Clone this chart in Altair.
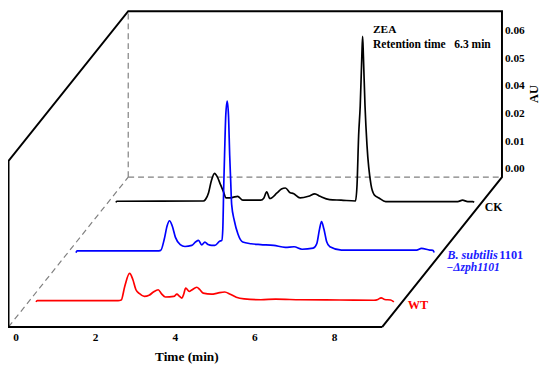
import altair as alt
import pandas as pd

# ---------------- data ----------------
# WT (red), front trace
wt_time = [0, 0.03, 2.06, 2.14, 2.23, 2.35, 2.43, 2.51, 2.60, 2.72, 2.84, 2.95, 3.07, 3.15, 3.25,
           3.46, 3.54, 3.60, 3.665, 3.71, 3.76, 3.85, 3.91, 4.04, 4.11, 4.20, 4.41, 4.56, 4.74,
           4.88, 5.03, 5.23, 5.65, 6.02, 6.64, 7.63, 8.49, 8.59, 8.67, 8.76, 8.91, 8.99]
wt_au = [0.0000, 0.0005, 0.0005, 0.0007, 0.0057, 0.0103, 0.0082, 0.0044, 0.0030, 0.0020, 0.0024,
         0.0036, 0.0044, 0.0030, 0.0018, 0.0020, 0.0028, 0.0021, 0.0014, 0.0028, 0.0050, 0.0038,
         0.0043, 0.0053, 0.0045, 0.0032, 0.0028, 0.0032, 0.0036, 0.0028, 0.0017, 0.0011, 0.0008,
         0.0010, 0.0008, 0.0007, 0.0006, 0.0009, 0.0015, 0.0009, 0.0007, 0.0000]

# B. subtilis 1101 -Δzph1101 (blue), middle trace
mut_time = [0, 0.03, 2.04, 2.13, 2.22, 2.29, 2.35, 2.42, 2.50, 2.62, 2.74, 2.91, 3.01, 3.08, 3.16,
            3.24, 3.32, 3.41, 3.49, 3.61, 3.665, 3.69, 3.714, 3.734, 3.764, 3.80, 3.833, 3.863,
            3.887, 3.912, 3.98, 4.07, 4.19, 4.40, 4.64, 4.97, 5.26, 5.48, 5.68, 5.96, 6.05, 6.12,
            6.17, 6.23, 6.30, 6.38, 6.67, 8.56, 8.68, 8.89, 8.97, 9.00]
mut_au = [-0.0002, 0.0004, 0.0004, 0.0006, 0.0047, 0.0094, 0.0113, 0.0094, 0.0053, 0.0027, 0.0020,
          0.0024, 0.0037, 0.0042, 0.0026, 0.0036, 0.0027, 0.0024, 0.0024, 0.0039, 0.0042, 0.0083,
          0.0243, 0.0350, 0.0493, 0.0546, 0.0493, 0.0350, 0.0261, 0.0172, 0.0113, 0.0065, 0.0036,
          0.0030, 0.0027, 0.0024, 0.0017, 0.0019, 0.0010, 0.0014, 0.0030, 0.0083, 0.0110, 0.0083,
          0.0037, 0.0019, 0.0007, 0.0007, 0.0013, 0.0007, 0.0006, -0.0002]

# CK (black), back trace
ck_time = [0, 0.03, 2.20, 2.25, 2.33, 2.40, 2.48, 2.55, 2.63, 2.70, 2.77, 2.85, 2.94, 3.06, 3.19,
           3.39, 3.64, 3.72, 3.79, 3.87, 4.05, 4.16, 4.26, 4.38, 4.46, 4.63, 4.84, 5.00, 5.13,
           5.37, 5.66, 6.02, 6.06, 6.10, 6.14, 6.18, 6.20, 6.22, 6.26, 6.31, 6.41, 6.49, 6.61,
           6.78, 8.59, 8.71, 8.84, 8.97, 9.00]
ck_au = [-0.0001, 0.0003, 0.0004, 0.0009, 0.0034, 0.0077, 0.0104, 0.0091, 0.0063, 0.0039, 0.0015,
         0.0015, 0.0017, 0.0021, 0.0007, 0.0007, 0.0007, 0.0015, 0.0037, 0.0013, 0.0033, 0.0047,
         0.0051, 0.0034, 0.0031, 0.0015, 0.0021, 0.0030, 0.0021, 0.0009, 0.0007, 0.0004, 0.0063,
         0.0241, 0.0348, 0.0526, 0.0599, 0.0526, 0.0348, 0.0205, 0.0063, 0.0027, 0.0015, 0.0002,
         0.0002, 0.0007, 0.0002, 0.0002, -0.0001]

x_ticks = [0, 2, 4, 6, 8]
au_tick_labels = ["0.00", "0.01", "0.02", "0.04", "0.05", "0.06"]

# ---------------- layout (pseudo-3D oblique projection) ----------------
W, H = 542, 358
PX_PER_MIN = 40.4
PX_PER_AU = 2808.0
XMIN = -8.2 / PX_PER_MIN
XMAX = XMIN + W / PX_PER_MIN
YMAX = 321.0 / PX_PER_AU
YMIN = YMAX - H / PX_PER_AU
DX = 121.5 / PX_PER_MIN   # shift (min) for full depth
DY = 152.0 / PX_PER_AU    # shift (AU) for full depth
T_LO, T_HI = -0.19, 9.2
AU_TOP = 0.06
FONT = "Liberation Serif"

xs = alt.Scale(domain=[XMIN, XMAX], nice=False, zero=False)
ys = alt.Scale(domain=[YMIN, YMAX], nice=False, zero=False)


def proj(ch):
    return ch.transform_calculate(
        X=f"datum.t + datum.d*{DX}", Y=f"datum.au + datum.d*{DY}")


def xy():
    return dict(x=alt.X("X:Q", scale=xs, axis=None), y=alt.Y("Y:Q", scale=ys, axis=None))


def series_df(times, aus, depth):
    return pd.DataFrame({"t": times, "au": aus, "d": depth, "i": list(range(len(times)))})


# frame
frame_df = pd.DataFrame({
    "t": [T_HI, T_LO, T_LO, T_LO, T_HI, T_HI, T_HI],
    "au": [0, 0, AU_TOP, AU_TOP, AU_TOP, 0, 0],
    "d": [0, 0, 0, 1, 1, 1, 0],
    "i": list(range(7)),
})
frame = proj(alt.Chart(frame_df)).mark_line(
    color="black", strokeWidth=2, strokeJoin="miter").encode(**xy(), order="i:Q")

dash_df = pd.DataFrame({
    "t": [T_LO, T_LO, T_LO], "au": [0, 0, 0], "d": [0, 1, 1],
    "t2": [T_LO, T_HI, T_LO], "au2": [0, 0, AU_TOP], "d2": [1, 1, 1],
})
dashed = proj(alt.Chart(dash_df)).transform_calculate(
    X2=f"datum.t2 + datum.d2*{DX}", Y2=f"datum.au2 + datum.d2*{DY}"
).mark_rule(color="#808080", strokeWidth=1.2, strokeDash=[6, 4]).encode(
    **xy(), x2="X2:Q", y2="Y2:Q")


# traces
def trace(times, aus, depth, color):
    return proj(alt.Chart(series_df(times, aus, depth))).mark_line(
        color=color, strokeWidth=1.7, interpolate="monotone").encode(**xy(), order="i:Q")


ck_line = trace(ck_time, ck_au, 5 / 6, "black")
mut_line = trace(mut_time, mut_au, 0.5, "#0000ff")
wt_line = trace(wt_time, wt_au, 1 / 6, "#ff0000")

# bottom tick labels
xt_df = pd.DataFrame({"t": x_ticks, "au": 0.0, "d": 0.0, "label": [str(v) for v in x_ticks]})
xt = proj(alt.Chart(xt_df)).mark_text(
    font=FONT, fontWeight="bold", fontSize=11.5, dy=11, align="center", baseline="middle",
    color="black").encode(**xy(), text="label:N")

# AU labels on back plane
au_df = pd.DataFrame({"t": T_HI, "au": [i * 0.01 for i in range(len(au_tick_labels))],
                      "d": 1.0, "label": au_tick_labels})
aut = proj(alt.Chart(au_df)).mark_text(
    font=FONT, fontWeight="bold", fontSize=11.5, dx=3, dy=-8, align="left", baseline="middle",
    color="black").encode(**xy(), text="label:N")

# annotations (positions in data units on the front plane)
ann_left = pd.DataFrame({
    "label": ["ZEA", "Retention time\u00a0\u00a0 6.3 min", "CK", "WT", "1101"],
    "t": [8.968, 8.968, 11.772, 9.842, 12.14],
    "au": [0.1073, 0.1023, 0.04345, 0.00805, 0.02585],
    "d": 0.0,
    "col": ["black", "black", "black", "#ff0000", "#1a1aff"],
    "sz": [11.5, 11.7, 12, 12.5, 12.5],
})
annl = proj(alt.Chart(ann_left)).mark_text(
    font=FONT, fontWeight="bold", align="left", baseline="middle").encode(
    **xy(), text="label:N", color=alt.Color("col:N", scale=None), size=alt.Size("sz:Q", scale=None))

ann_it = pd.DataFrame({
    "label": ["B. subtilis", "\u2212\u0394zph1101"],
    "t": [10.832, 10.807], "au": [0.02585, 0.02172], "d": 0.0,
    "sz": [12.5, 11.8],
})
anni = proj(alt.Chart(ann_it)).mark_text(
    font=FONT, fontWeight="bold", fontStyle="italic", align="left",
    baseline="middle", color="#1a1aff").encode(
    **xy(), text="label:N", size=alt.Size("sz:Q", scale=None))

title_df = pd.DataFrame({"label": ["Time (min)"], "t": [4.29], "au": [-0.0109], "d": 0.0})
xtitle = proj(alt.Chart(title_df)).mark_text(
    font=FONT, fontWeight="bold", fontSize=13.5, align="center", baseline="middle",
    color="black").encode(**xy(), text="label:N")

au_title_df = pd.DataFrame({"label": ["AU"], "t": [13.02], "au": [0.08415], "d": 0.0})
autitle = proj(alt.Chart(au_title_df)).mark_text(
    font=FONT, fontWeight="bold", fontSize=12.5, align="center", baseline="middle", angle=270,
    color="black").encode(**xy(), text="label:N")

chart = alt.layer(
    dashed, frame, ck_line, mut_line, wt_line, xt, aut, annl, anni, xtitle, autitle
).properties(
    width=W, height=H, autosize=alt.AutoSizeParams(type="none"), padding=0, background="white"
).configure_view(stroke=None)

chart.save("out.html", embed_options={"renderer": "svg", "actions": False})
